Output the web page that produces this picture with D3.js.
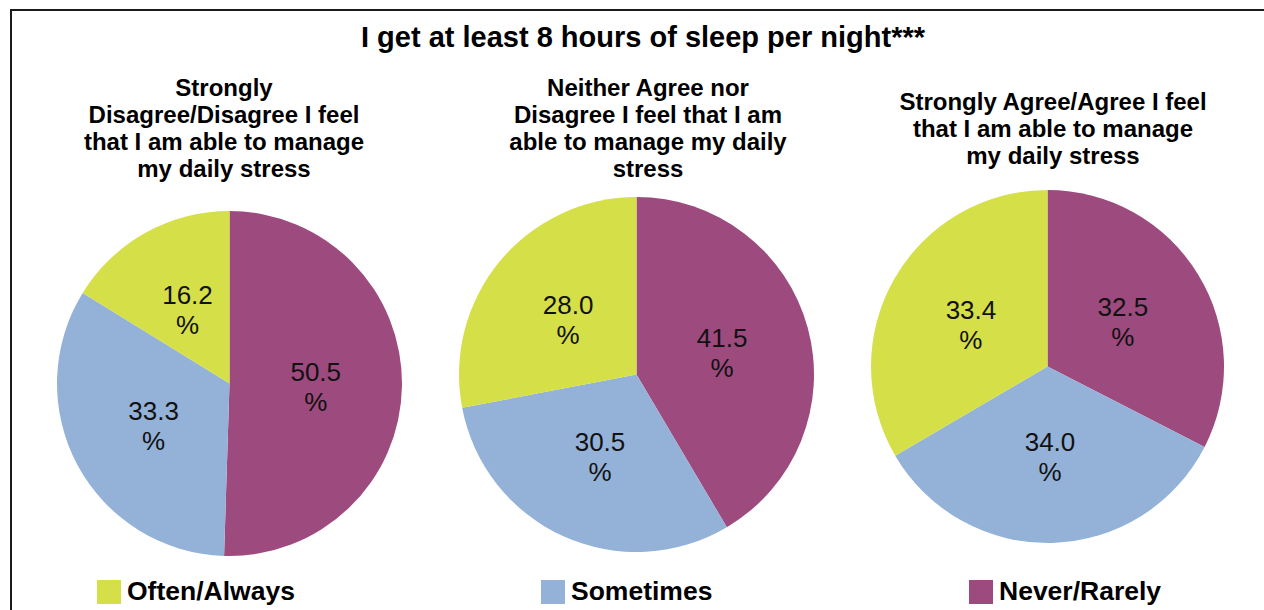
<!DOCTYPE html>
<html>
<head>
<meta charset="utf-8">
<script src="https://cdn.jsdelivr.net/npm/d3@7"></script>
<style>
  body { margin: 0; background: #fff; }
  svg { display: block; font-family: Arial, 'Liberation Sans', sans-serif; }
</style>
</head>
<body>
<div id="chart"></div>
<script>
let width = 1264
let height = 610

let title = 'I get at least 8 hours of sleep per night***'

// legend order
let categories = ['Often/Always', 'Sometimes', 'Never/Rarely']
let colors = ['#D5DF47', '#94B2D8', '#9D4A7E']

let pieTitles = [
  ['Strongly', 'Disagree/Disagree I feel', 'that I am able to manage', 'my daily stress'],
  ['Neither Agree nor', 'Disagree I feel that I am', 'able to manage my daily', 'stress'],
  ['Strongly Agree/Agree I feel', 'that I am able to manage', 'my daily stress']
]

// values per pie, same order as categories
let stressDisagree = [16.2, 33.3, 50.5]
let stressNeutral = [28.0, 30.5, 41.5]
let stressAgree = [33.4, 34.0, 32.5]
let pieValues = [stressDisagree, stressNeutral, stressAgree]

// layout of each pie
let pieLayout = [
  { cx: 229.5, cy: 383.5, r: 172.5, tx: 224 },
  { cx: 636.5, cy: 374.5, r: 177.5, tx: 648 },
  { cx: 1047.5, cy: 366.5, r: 176.5, tx: 1053 }
]
let legendX = [97, 541, 969]

let colorScale = d3.scaleOrdinal().domain(categories).range(colors)
let fmt = d3.format('.1f')

let svg = d3
  .select('#chart')
  .append('svg')
  .attr('width', width)
  .attr('height', height)

// frame (right / bottom edge fall outside the picture)
svg
  .append('rect')
  .attr('x', 11)
  .attr('y', 10)
  .attr('width', width + 20)
  .attr('height', height + 20)
  .attr('fill', 'none')
  .attr('stroke', '#1a1a1a')
  .attr('stroke-width', 2)

svg
  .append('text')
  .attr('x', 643)
  .attr('y', 47)
  .attr('text-anchor', 'middle')
  .attr('font-size', 29)
  .attr('font-weight', 'bold')
  .text(title)

// Never/Rarely first, clockwise from 12 o'clock
let pie = d3
  .pie()
  .sort(null)
  .value(d => d.value)

pieValues.forEach((values, i) => {
  let lay = pieLayout[i]
  let rows = categories
    .map((c, j) => ({ key: c, value: values[j] }))
    .reverse()

  let arc = d3.arc().innerRadius(0).outerRadius(lay.r)
  let labelArc = d3.arc().innerRadius(lay.r * 0.5).outerRadius(lay.r * 0.5)

  let g = svg
    .append('g')
    .attr('transform', 'translate(' + lay.cx + ',' + lay.cy + ')')

  let slices = g
    .selectAll('.slice')
    .data(pie(rows))
    .enter()
    .append('g')
    .attr('class', 'slice')

  slices
    .append('path')
    .attr('d', arc)
    .attr('fill', d => colorScale(d.data.key))

  let labels = slices
    .append('text')
    .attr('transform', d => 'translate(' + labelArc.centroid(d) + ')')
    .attr('text-anchor', 'middle')
    .attr('font-size', 26)
    .attr('fill', '#111')

  labels
    .append('tspan')
    .attr('x', 0)
    .attr('y', -4)
    .text(d => fmt(d.data.value))

  labels
    .append('tspan')
    .attr('x', 0)
    .attr('y', 26)
    .text('%')

  // sub title, centred vertically on the same line
  let lines = pieTitles[i]
  let firstBaseline = 136.5 - ((lines.length - 1) * 27) / 2
  svg
    .append('g')
    .selectAll('text')
    .data(lines)
    .enter()
    .append('text')
    .attr('x', lay.tx)
    .attr('y', (d, k) => firstBaseline + k * 27)
    .attr('text-anchor', 'middle')
    .attr('font-size', 24)
    .attr('font-weight', 'bold')
    .text(d => d)
})

// legend
let legend = svg
  .selectAll('.legend')
  .data(categories)
  .enter()
  .append('g')
  .attr('class', 'legend')
  .attr('transform', (d, i) => 'translate(' + legendX[i] + ',580)')

legend
  .append('rect')
  .attr('width', 24)
  .attr('height', 24)
  .attr('fill', d => colorScale(d))

legend
  .append('text')
  .attr('x', 30)
  .attr('y', 20)
  .attr('font-size', 26.5)
  .attr('font-weight', 'bold')
  .text(d => d)
</script>
</body>
</html>
